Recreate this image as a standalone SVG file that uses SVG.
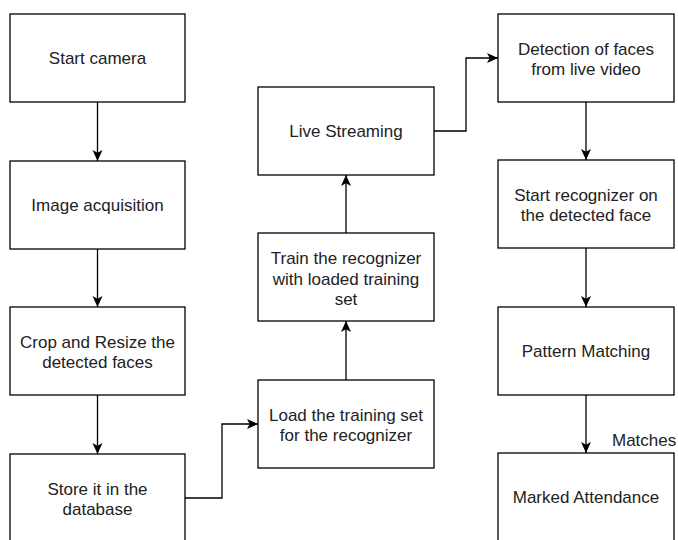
<svg xmlns="http://www.w3.org/2000/svg" width="678" height="540" viewBox="0 0 678 540">
<style>
.box{fill:#fff;stroke:#000;stroke-width:1.3}
.t{font-family:"Liberation Sans",Arial,sans-serif;font-size:17px;fill:#222;text-anchor:middle}
.e{fill:none;stroke:#000;stroke-width:1.3}
</style>
<defs>
<marker id="ah" markerUnits="userSpaceOnUse" markerWidth="12" markerHeight="12" viewBox="0 0 12 12" refX="11.5" refY="6" orient="auto">
<path d="M0.5,1 L11.5,6 L0.5,11 L3.2,6 z" fill="#000"/>
</marker>
</defs>
<rect width="678" height="540" fill="#fff"/>
<g id="edges">
<path class="e" d="M97.5,102 V161" marker-end="url(#ah)"/>
<path class="e" d="M97.5,249 V307" marker-end="url(#ah)"/>
<path class="e" d="M97.5,395 V454" marker-end="url(#ah)"/>
<path class="e" d="M185,498 H222 V424 H258" marker-end="url(#ah)"/>
<path class="e" d="M346,380 V321" marker-end="url(#ah)"/>
<path class="e" d="M346,233 V175" marker-end="url(#ah)"/>
<path class="e" d="M434,131 H466 V58 H498" marker-end="url(#ah)"/>
<path class="e" d="M586,102 V160" marker-end="url(#ah)"/>
<path class="e" d="M586,248 V307" marker-end="url(#ah)"/>
<path class="e" d="M586,395 V453" marker-end="url(#ah)"/>
<text class="t" x="612" y="446" style="text-anchor:start">Matches</text>
</g>
<g id="n1"><rect class="box" x="10" y="14" width="175" height="88"/><text class="t" x="97.5" y="64">Start camera</text></g>
<g id="n2"><rect class="box" x="10" y="161" width="175" height="88"/><text class="t" x="97.5" y="211">Image acquisition</text></g>
<g id="n3"><rect class="box" x="10" y="307" width="175" height="88"/><text class="t" x="97.5" y="348">Crop and Resize the</text><text class="t" x="97.5" y="368">detected faces</text></g>
<g id="n4"><rect class="box" x="10" y="454" width="175" height="88"/><text class="t" x="97.5" y="495">Store it in the</text><text class="t" x="97.5" y="515">database</text></g>
<g id="n5"><rect class="box" x="258" y="380" width="176" height="88"/><text class="t" x="346" y="421">Load the training set</text><text class="t" x="346" y="441">for the recognizer</text></g>
<g id="n6"><rect class="box" x="258" y="233" width="176" height="88"/><text class="t" x="346" y="264">Train the recognizer</text><text class="t" x="346" y="284.5">with loaded training</text><text class="t" x="346" y="305">set</text></g>
<g id="n7"><rect class="box" x="258" y="87" width="176" height="88"/><text class="t" x="346" y="137">Live Streaming</text></g>
<g id="n8"><rect class="box" x="498" y="14" width="176" height="88"/><text class="t" x="586" y="55">Detection of faces</text><text class="t" x="586" y="75">from live video</text></g>
<g id="n9"><rect class="box" x="498" y="160" width="176" height="88"/><text class="t" x="586" y="201">Start recognizer on</text><text class="t" x="586" y="221">the detected face</text></g>
<g id="n10"><rect class="box" x="498" y="307" width="176" height="88"/><text class="t" x="586" y="357">Pattern Matching</text></g>
<g id="n11"><rect class="box" x="498" y="453" width="176" height="88"/><text class="t" x="586" y="503">Marked Attendance</text></g>
</svg>
